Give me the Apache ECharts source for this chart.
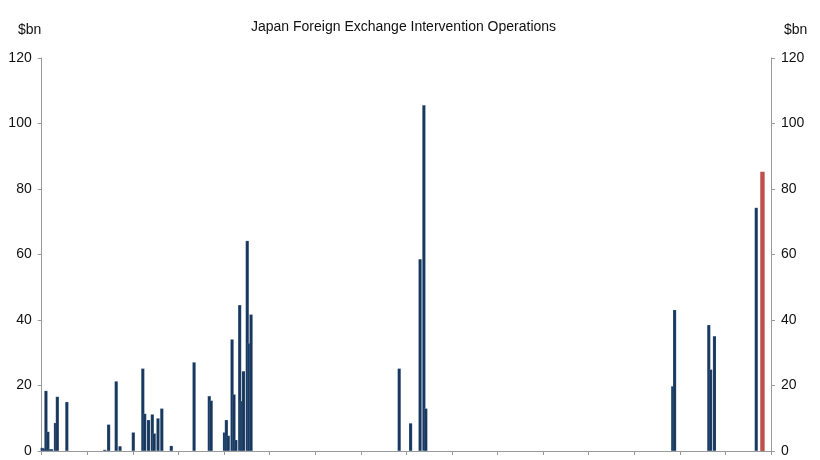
<!DOCTYPE html>
<html lang="en">
<head>
<meta charset="UTF-8">
<title>Japan Foreign Exchange Intervention Operations</title>
<script src="https://cdn.jsdelivr.net/npm/echarts@6/dist/echarts.min.js"></script>
<style>
  html, body { margin: 0; padding: 0; background: #fff; }
  #main { width: 820px; height: 460px; }
</style>
</head>
<body>
<div id="main"></div>
<script type="text/javascript">
// monthly intervention totals, $bn
var months = ['1995-01', '1995-02', '1995-03', '1995-04', '1995-05', '1995-06', '1995-08', '1995-09',
  '1996-02', '1997-10', '1997-12', '1998-04', '1998-06',
  '1999-01', '1999-06', '1999-07', '1999-09', '1999-11', '1999-12', '2000-02', '2000-04', '2000-09',
  '2001-09', '2002-05', '2002-06',
  '2003-01', '2003-02', '2003-03', '2003-05', '2003-06', '2003-07', '2003-09', '2003-10', '2003-11',
  '2004-01', '2004-02', '2004-03',
  '2010-09', '2011-03', '2011-08', '2011-10', '2011-11',
  '2022-09', '2022-10', '2024-04', '2024-05', '2024-07', '2026-05'];
var values = [1.0, 0.8, 18.4, 5.9, 0.6, 0.6, 8.6, 16.6,
  15.0, 0.4, 8.1, 21.3, 1.5,
  5.7, 25.2, 11.4, 9.5, 11.2, 5.4, 10.0, 13.0, 1.6,
  27.1, 16.8, 15.4,
  5.7, 9.5, 4.7, 34.1, 17.3, 3.4, 44.6, 15.3, 24.4,
  64.2, 32.9, 41.7,
  25.2, 8.5, 58.6, 105.6, 13.0,
  19.8, 43.1, 38.5, 24.9, 35.1, 74.3];
var latestMonths = ['2026-08'];
var latestValues = [85.3];
var yTicks = [0, 20, 40, 60, 80, 100, 120];

var startYear = 1995;
var endYear = 2027;

function monthPos(s) {
  var p = s.split('-');
  return (parseInt(p[0], 10) - startYear) * 12 + parseInt(p[1], 10) - 1 + 0.5;
}
function toPoints(ms, vs) {
  var out = [];
  for (var i = 0; i < ms.length; i++) {
    out.push([monthPos(ms[i]), vs[i]]);
  }
  return out;
}

var myChart = echarts.init(document.getElementById('main'));
var axisGrey = '#9a9a9a';
var font = 'Liberation Sans, Arial, sans-serif';
var yAxisCommon = {
  type: 'value',
  min: yTicks[0],
  max: yTicks[yTicks.length - 1],
  interval: yTicks[1] - yTicks[0],
  axisLine: { show: true, lineStyle: { color: axisGrey, width: 1 } },
  axisTick: { show: true, inside: false, length: 4, lineStyle: { color: axisGrey } },
  axisLabel: { color: '#111', fontSize: 14, fontFamily: font, margin: 10 },
  splitLine: { show: false }
};

var option = {
  animation: false,
  backgroundColor: '#fff',
  title: [{
    text: 'Japan Foreign Exchange Intervention Operations',
    left: 246,
    top: 15,
    textStyle: { fontSize: 14, fontWeight: 'normal', color: '#111', fontFamily: font }
  }, {
    text: '$bn',
    left: 13,
    top: 18,
    textStyle: { fontSize: 14, fontWeight: 'normal', color: '#111', fontFamily: font }
  }, {
    text: '$bn',
    left: 779,
    top: 18,
    textStyle: { fontSize: 14, fontWeight: 'normal', color: '#111', fontFamily: font }
  }],
  grid: {
    left: 41.7,
    right: 49,
    top: 58,
    bottom: 9
  },
  xAxis: {
    type: 'value',
    min: 0,
    max: (endYear - startYear) * 12,
    interval: 24,
    axisLine: { show: true, onZero: false, lineStyle: { color: axisGrey, width: 1 } },
    axisTick: { show: true, inside: false, length: 4, lineStyle: { color: axisGrey } },
    axisLabel: { show: false },
    splitLine: { show: false }
  },
  yAxis: [
    echarts.util.merge({ position: 'left' }, yAxisCommon, true),
    echarts.util.merge({ position: 'right' }, yAxisCommon, true)
  ],
  series: [{
    name: 'Intervention',
    type: 'bar',
    yAxisIndex: 0,
    barWidth: 3.4,
    itemStyle: { color: '#17375e', borderColor: 'rgba(200,215,235,0.5)', borderWidth: 0.3 },
    data: toPoints(months, values)
  }, {
    name: 'Latest',
    type: 'bar',
    yAxisIndex: 0,
    barWidth: 4.4,
    barGap: '-100%',
    itemStyle: { color: '#c0504d' },
    data: toPoints(latestMonths, latestValues)
  }]
};
myChart.setOption(option);
</script>
</body>
</html>
